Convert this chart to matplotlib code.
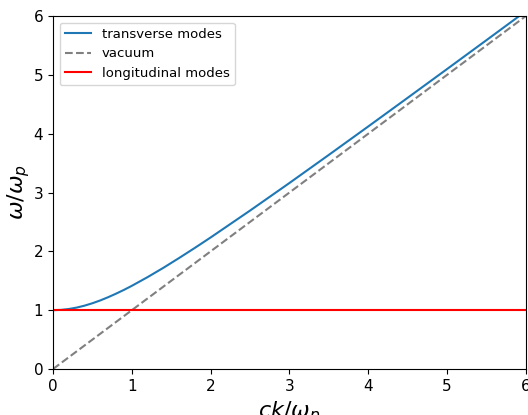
import matplotlib
matplotlib.use("Agg")
import matplotlib.pyplot as plt

# wave number ck/omega_p and frequency omega/omega_p
k_vals = [0.0, 0.1, 0.2, 0.3, 0.4, 0.5, 0.6, 0.7, 0.8, 0.9, 1.0, 1.2, 1.4, 1.6, 1.8,
          2.0, 2.5, 3.0, 3.5, 4.0, 4.5, 5.0, 5.5, 6.0]
w_transverse = [1.0, 1.005, 1.02, 1.044, 1.077, 1.118, 1.166, 1.221, 1.281, 1.345,
                1.414, 1.562, 1.72, 1.887, 2.059, 2.236, 2.693, 3.162, 3.64, 4.123,
                4.61, 5.099, 5.59, 6.083]
k_vacuum = [0.0, 6.0]
w_vacuum = [0.0, 6.0]
k_long = [0.0, 6.0]
w_long = [1.0, 1.0]

fig = plt.figure(figsize=(5.28, 4.15), dpi=100)
ax = fig.add_axes([0.1004, 0.1108, 0.8956, 0.8506])

ax.plot(k_vals, w_transverse, color="tab:blue", label="transverse modes")
ax.plot(k_vacuum, w_vacuum, "--", color="gray", label="vacuum")
ax.plot(k_long, w_long, color="red", label="longitudinal modes")

ax.set_xlim(0, 6)
ax.set_ylim(0, 6)
ax.set_xlabel(r"$ck/\omega_p$", fontsize=16)
ax.set_ylabel(r"$\omega/\omega_p$", fontsize=16, labelpad=1)
ax.tick_params(labelsize=11)
ax.legend(loc="upper left", fontsize=9.5)

fig.savefig("out.png", dpi=100)
